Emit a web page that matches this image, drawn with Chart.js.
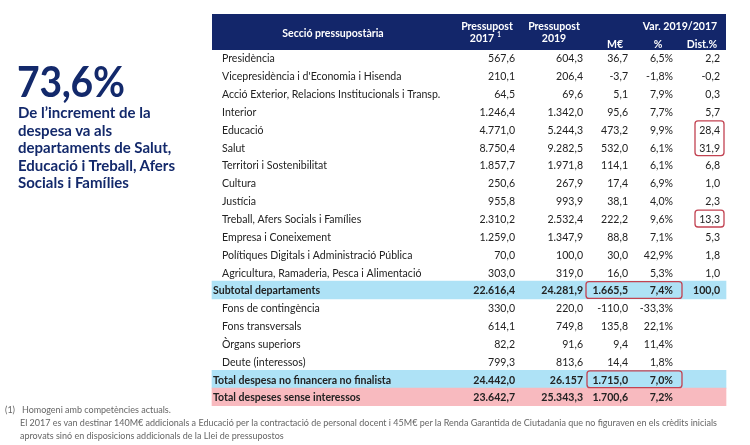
<!DOCTYPE html>
<html>
<head>
<meta charset="utf-8">
<script src="https://cdn.jsdelivr.net/npm/chart.js@4.4.1/dist/chart.umd.min.js"></script>
<style>
  body { margin: 0; background: #fff; width: 750px; height: 445px; overflow: hidden; position: relative; font-family: Lato, "Open Sans", sans-serif; }
  #wrap { position: absolute; left: 0; top: 0; width: 750px; height: 445px; }
  #big { position: absolute; left: 17px; top: 59px; font-size: 42px; line-height: 44px; font-weight: 700; color: #13296b; letter-spacing: -0.3px; transform: scaleX(0.93); transform-origin: left top; }
  #sub { position: absolute; left: 18px; top: 104px; width: 200px; font-size: 15px; line-height: 17.6px; font-weight: 700; color: #13296b; white-space: nowrap; }
  #notes { position: absolute; left: 5px; top: 403px; font-size: 9px; line-height: 13px; color: #666; }
  #notes .ind { padding-left: 15px; }
</style>
</head>
<body>
<div id="wrap"><canvas id="chart" width="750" height="445"></canvas></div>
<div id="big">73,6%</div>
<div id="sub">De l’increment de la<br>despesa va als<br>departaments de Salut,<br>Educació i Treball, Afers<br>Socials i Famílies</div>
<div id="notes">
  <div>(1)&nbsp;&nbsp;&nbsp;Homogeni amb competències actuals.</div>
  <div class="ind">El 2017 es van destinar 140M€ addicionals a Educació per la contractació de personal docent i 45M€ per la Renda Garantida de Ciutadania que no figuraven en els crèdits inicials</div>
  <div class="ind">aprovats sinó en disposicions addicionals de la Llei de pressupostos</div>
</div>
<script>
// files de la taula
const seccions = [
  'Presidència',
  "Vicepresidència i d'Economia i Hisenda",
  'Acció Exterior, Relacions Institucionals i Transp.',
  'Interior',
  'Educació',
  'Salut',
  'Territori i Sostenibilitat',
  'Cultura',
  'Justícia',
  'Treball, Afers Socials i Famílies',
  'Empresa i Coneixement',
  'Polítiques Digitals i Administració Pública',
  'Agricultura, Ramaderia, Pesca i Alimentació',
  'Subtotal departaments',
  'Fons de contingència',
  'Fons transversals',
  'Òrgans superiors',
  'Deute (interessos)',
  'Total despesa no financera no finalista',
  'Total despeses sense interessos'
];
const pressupost2017 = ['567,6', '210,1', '64,5', '1.246,4', '4.771,0', '8.750,4', '1.857,7', '250,6', '955,8', '2.310,2', '1.259,0', '70,0', '303,0', '22.616,4', '330,0', '614,1', '82,2', '799,3', '24.442,0', '23.642,7'];
const pressupost2019 = ['604,3', '206,4', '69,6', '1.342,0', '5.244,3', '9.282,5', '1.971,8', '267,9', '993,9', '2.532,4', '1.347,9', '100,0', '319,0', '24.281,9', '220,0', '749,8', '91,6', '813,6', '26.157', '25.343,3'];
const varMEur = ['36,7', '-3,7', '5,1', '95,6', '473,2', '532,0', '114,1', '17,4', '38,1', '222,2', '88,8', '30,0', '16,0', '1.665,5', '-110,0', '135,8', '9,4', '14,4', '1.715,0', '1.700,6'];
const varPct = ['6,5%', '-1,8%', '7,9%', '7,7%', '9,9%', '6,1%', '6,1%', '6,9%', '4,0%', '9,6%', '7,1%', '42,9%', '5,3%', '7,4%', '-33,3%', '22,1%', '11,4%', '1,8%', '7,0%', '7,2%'];
const distPct = ['2,2', '-0,2', '0,3', '5,7', '28,4', '31,9', '6,8', '1,0', '2,3', '13,3', '5,3', '1,8', '1,0', '100,0', '', '', '', '', '', ''];
const filesTotal = { 13: '#aee2f6', 18: '#aee2f6', 19: '#f8babf' };

// fons de les files destacades (barres horitzontals flotants)
const fonsFiles = seccions.map((s, i) => filesTotal[i] ? [212, 726] : null);
const colorsFons = seccions.map((s, i) => filesTotal[i] || 'transparent');

const navy = '#13266a';
const txt = '#222';
const font = 'Lato, "Open Sans", sans-serif';
const estret = 0.88; // text una mica condensat

// escriu un text condensat horitzontalment
function text(ctx, s, x, y, align) {
  ctx.save();
  ctx.translate(x, y);
  ctx.scale(estret, 1);
  ctx.textAlign = align;
  ctx.fillText(s, 0, 0);
  ctx.restore();
}

const taulaPlugin = {
  id: 'taula',
  beforeDatasetsDraw(chart) {
    const ctx = chart.ctx;
    const x = chart.scales.x;
    ctx.save();
    ctx.fillStyle = navy;
    ctx.fillRect(x.getPixelForValue(212), 14, x.getPixelForValue(726) - x.getPixelForValue(212), 36);
    ctx.fillStyle = '#fff';
    ctx.font = `bold 12px ${font}`;
    ctx.textBaseline = 'middle';
    text(ctx, 'Secció pressupostària', x.getPixelForValue(333), 33, 'center');
    text(ctx, 'Pressupost', x.getPixelForValue(487), 26, 'center');
    text(ctx, '2017', x.getPixelForValue(482), 38, 'center');
    text(ctx, 'Pressupost', x.getPixelForValue(554), 26, 'center');
    text(ctx, '2019', x.getPixelForValue(554), 38, 'center');
    text(ctx, 'Var. 2019/2017', x.getPixelForValue(680), 26, 'center');
    text(ctx, 'M€', x.getPixelForValue(615), 44, 'center');
    text(ctx, '%', x.getPixelForValue(658), 44, 'center');
    text(ctx, 'Dist.%', x.getPixelForValue(702), 44, 'center');
    ctx.font = `bold 7px ${font}`;
    text(ctx, '1', x.getPixelForValue(499), 35, 'center');
    ctx.restore();
  },
  afterDatasetsDraw(chart) {
    const ctx = chart.ctx;
    const x = chart.scales.x;
    const y = chart.scales.y;
    ctx.save();
    ctx.textBaseline = 'middle';
    ctx.fillStyle = txt;
    const cols = [[pressupost2017, 515], [pressupost2019, 583], [varMEur, 628], [varPct, 673], [distPct, 720]];
    seccions.forEach((nom, i) => {
      const yy = y.getPixelForValue(i) + 0.5;
      const bold = !!filesTotal[i];
      ctx.font = `${bold ? 'bold ' : ''}12px ${font}`;
      text(ctx, nom, x.getPixelForValue(bold ? 213 : 222), yy, 'left');
      cols.forEach(([serie, xr]) => {
        text(ctx, serie[i], x.getPixelForValue(xr), yy, 'right');
      });
    });
    // requadres vermells
    const half = (y.getPixelForValue(1) - y.getPixelForValue(0)) / 2;
    const caixes = [[4, 5, 695, 724], [9, 9, 695, 724], [13, 13, 586, 682], [18, 18, 587, 682]];
    ctx.strokeStyle = '#c24352';
    ctx.lineWidth = 1.3;
    caixes.forEach(([r0, r1, x0, x1]) => {
      const top = y.getPixelForValue(r0) - half + 0.5;
      const bot = y.getPixelForValue(r1) + half - 0.5;
      ctx.beginPath();
      ctx.roundRect(x.getPixelForValue(x0), top, x.getPixelForValue(x1) - x.getPixelForValue(x0), bot - top, 3);
      ctx.stroke();
    });
    ctx.restore();
  }
};

new Chart(document.getElementById('chart'), {
  type: 'bar',
  data: {
    labels: seccions,
    datasets: [{
      data: fonsFiles,
      backgroundColor: colorsFons,
      barPercentage: 1,
      categoryPercentage: 1
    }]
  },
  options: {
    indexAxis: 'y',
    responsive: false,
    animation: false,
    layout: { padding: { top: 49, bottom: 39, left: 0, right: 0 } },
    scales: {
      x: { type: 'linear', min: 0, max: 750, display: false },
      y: { display: false, offset: true }
    },
    plugins: { legend: { display: false }, tooltip: { enabled: false } }
  },
  plugins: [taulaPlugin]
});
</script>
</body>
</html>
